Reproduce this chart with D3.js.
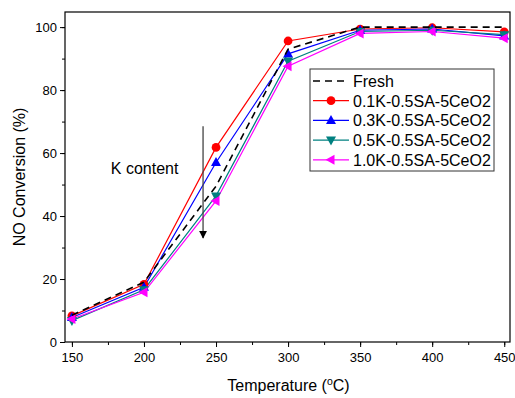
<!DOCTYPE html>
<html>
<head>
<meta charset="utf-8">
<script src="https://cdn.jsdelivr.net/npm/d3@7"></script>
<style>
  body { margin: 0; background: #fff; }
  text { font-family: "Liberation Sans", Arial, sans-serif; fill: #000; }
</style>
</head>
<body>
<div id="chart"></div>
<script>
// data
var temps = [150, 200, 250, 300, 350, 400, 450];
var fresh = [8.5, 19, 49.5, 93, 100, 100, 100];
var k01 = [8.3, 18.3, 61.8, 95.6, 99.4, 99.8, 98.5];
var k03 = [7.8, 17.4, 57, 91.5, 99, 99.4, 97.2];
var k05 = [6.8, 16.6, 46.4, 89.2, 98.6, 99, 97.6];
var k10 = [7.3, 15.8, 44.8, 87.6, 98, 98.6, 96.5];
var seriesNames = ["Fresh", "0.1K-0.5SA-5CeO2", "0.3K-0.5SA-5CeO2", "0.5K-0.5SA-5CeO2", "1.0K-0.5SA-5CeO2"];
var xTicks = [150, 200, 250, 300, 350, 400, 450];
var yTicks = [0, 20, 40, 60, 80, 100];

var svgWidth = 515;
var svgHeight = 398;
var margin = { top: 12, right: 5, bottom: 56, left: 65 };
var width = svgWidth - margin.left - margin.right;
var height = svgHeight - margin.top - margin.bottom;

var svg = d3.select("#chart").append("svg")
  .attr("width", svgWidth)
  .attr("height", svgHeight);

var chartGroup = svg.append("g")
  .attr("transform", `translate(${margin.left}, ${margin.top})`);

var xScale = d3.scaleLinear().domain([145.2, 454]).range([0, width]);
var yScale = d3.scaleLinear().domain([0, 104.8]).range([height, 0]);

// minor ticks
var xMinor = d3.range(150, 451, 25);
var yMinor = d3.range(0, 101, 10);

chartGroup.append("g")
  .attr("transform", `translate(0, ${height})`)
  .call(d3.axisBottom(xScale).tickValues(xMinor).tickSize(3).tickFormat(""))
  .call(g => g.select(".domain").remove());
chartGroup.append("g")
  .call(d3.axisLeft(yScale).tickValues(yMinor).tickSize(3).tickFormat(""))
  .call(g => g.select(".domain").remove());

var xAxis = chartGroup.append("g")
  .attr("transform", `translate(0, ${height})`)
  .call(d3.axisBottom(xScale).tickValues(xTicks).tickSize(5).tickPadding(6).tickSizeOuter(0));
var yAxis = chartGroup.append("g")
  .call(d3.axisLeft(yScale).tickValues(yTicks).tickSize(5).tickPadding(3).tickSizeOuter(0));

svg.selectAll(".tick text").attr("font-size", 13).attr("font-family", "Liberation Sans, Arial, sans-serif");
svg.selectAll(".tick line").attr("stroke", "#000");
svg.selectAll(".domain").remove();

// frame
chartGroup.append("rect")
  .attr("x", 0).attr("y", 0)
  .attr("width", width).attr("height", height)
  .attr("fill", "none")
  .attr("stroke", "#000")
  .attr("stroke-width", 1.2);

var series = [
  { name: seriesNames[1], values: k01, color: "#ff0000", shape: "circle" },
  { name: seriesNames[2], values: k03, color: "#0000ff", shape: "up" },
  { name: seriesNames[3], values: k05, color: "#008080", shape: "down" },
  { name: seriesNames[4], values: k10, color: "#ff00ff", shape: "left" }
];

var line = d3.line()
  .x((d, i) => xScale(temps[i]))
  .y(d => yScale(d));

function markerPath(shape) {
  if (shape === "circle") return d3.symbol(d3.symbolCircle, 60)();
  if (shape === "up") return "M0,-5.5L5,3.5L-5,3.5Z";
  if (shape === "down") return "M0,5.5L5,-3.5L-5,-3.5Z";
  return "M-5.5,0L3.5,-5L3.5,5Z";
}

series.forEach(function(s) {
  chartGroup.append("path")
    .attr("d", line(s.values))
    .attr("fill", "none")
    .attr("stroke", s.color)
    .attr("stroke-width", 1.2);
});

series.forEach(function(s) {
  chartGroup.selectAll(null)
    .data(s.values)
    .enter()
    .append("path")
    .attr("d", markerPath(s.shape))
    .attr("transform", (d, i) => `translate(${xScale(temps[i])}, ${yScale(d)})`)
    .attr("fill", s.color);
});

// fresh dashed line on top
chartGroup.append("path")
  .attr("d", line(fresh))
  .attr("fill", "none")
  .attr("stroke", "#000")
  .attr("stroke-width", 1.6)
  .attr("stroke-dasharray", "7,5");

// arrow for K content
svg.append("defs").append("marker")
  .attr("id", "arrow")
  .attr("viewBox", "0 0 10 10")
  .attr("refX", 9).attr("refY", 5)
  .attr("markerWidth", 6).attr("markerHeight", 6)
  .attr("orient", "auto")
  .append("path")
  .attr("d", "M0,0L10,5L0,10Z")
  .attr("fill", "#000");

chartGroup.append("line")
  .attr("x1", xScale(241)).attr("x2", xScale(241))
  .attr("y1", yScale(68.5)).attr("y2", yScale(33))
  .attr("stroke", "#444")
  .attr("stroke-width", 1.3)
  .attr("marker-end", "url(#arrow)");

chartGroup.append("text")
  .attr("x", xScale(177))
  .attr("y", yScale(53.3))
  .attr("font-size", 16)
  .text("K content");

// legend
var legend = svg.append("g").attr("transform", "translate(310, 69)");
legend.append("rect")
  .attr("width", 184).attr("height", 102)
  .attr("fill", "#fff")
  .attr("stroke", "#333")
  .attr("stroke-width", 1);

var legendItems = [{ name: seriesNames[0], color: "#000", shape: null }].concat(series);
legendItems.forEach(function(s, i) {
  var y = 12 + i * 19.7;
  var g = legend.append("g").attr("transform", `translate(0, ${y})`);
  g.append("line")
    .attr("x1", 3).attr("x2", 39)
    .attr("y1", 0).attr("y2", 0)
    .attr("stroke", s.color)
    .attr("stroke-width", s.shape ? 1.2 : 1.6)
    .attr("stroke-dasharray", s.shape ? null : "7,5");
  if (s.shape) {
    g.append("path")
      .attr("d", markerPath(s.shape))
      .attr("transform", "translate(21, 0)")
      .attr("fill", s.color);
  }
  g.append("text")
    .attr("x", 43)
    .attr("y", 5.8)
    .attr("font-size", 16)
    .text(s.name);
});

// axis titles
svg.append("text")
  .attr("transform", "rotate(-90)")
  .attr("x", -(margin.top + height / 2))
  .attr("y", 25)
  .attr("text-anchor", "middle")
  .attr("font-size", 16)
  .text("NO Conversion (%)");

var xTitle = svg.append("text")
  .attr("x", margin.left + width / 2 + 1)
  .attr("y", 391)
  .attr("text-anchor", "middle")
  .attr("font-size", 16);
xTitle.append("tspan").text("Temperature (");
xTitle.append("tspan").attr("font-size", 10.5).attr("dy", -6).text("o");
xTitle.append("tspan").attr("dy", 6).text("C)");
</script>
</body>
</html>
